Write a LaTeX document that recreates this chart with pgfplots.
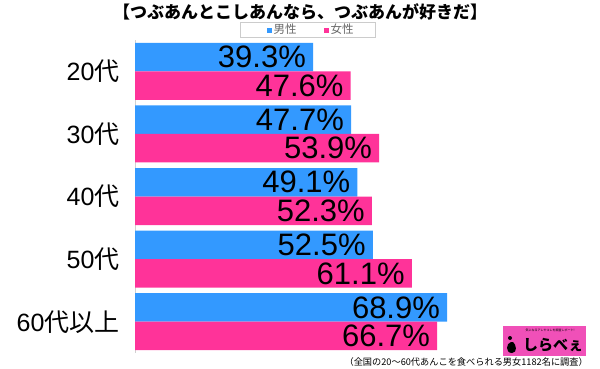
\documentclass[border=0pt]{standalone}
\usepackage{pgfplots}
\pgfplotsset{compat=1.18}
\usepackage{fontspec}
\setmainfont{Liberation Sans}
\newfontfamily\cjk{Noto Sans CJK JP}
\definecolor{mblue}{HTML}{3399FF}
\definecolor{fpink}{HTML}{FF3399}
\definecolor{logopink}{HTML}{F050B8}
\begin{document}
\begin{tikzpicture}[x=1pt,y=1pt]
\path[use as bounding box] (0,0) rectangle (600,368);
\begin{axis}[
  at={(135pt,15pt)}, anchor=south west,
  scale only axis, width=453pt, height=313pt,
  xbar, xmin=0, xmax=100,
  ymin=-0.5, ymax=4.5, y dir=reverse,
  ytick={0,1,2,3,4},
  yticklabels={20{\cjk 代},30{\cjk 代},40{\cjk 代},50{\cjk 代},60{\cjk 代以上}},
  yticklabel style={font=\fontsize{25}{25}\selectfont, text=black, xshift=-12pt},
  axis x line=none, axis y line*=left,
  y axis line style={draw=black!18, line width=0.8pt},
  major tick length=0,
  bar width=28.5pt,
  clip=false,
  point meta=x,
  nodes near coords={\pgfmathprintnumber[fixed,fixed zerofill,precision=1,assume math mode=true]{\pgfplotspointmeta}\%},
  every node near coord/.append style={anchor=east, inner xsep=7pt, text=black, font=\fontsize{31}{31}\selectfont},
]
\addplot[fill=mblue, draw=none, bar shift=14.25pt] coordinates {(39.3,0) (47.7,1) (49.1,2) (52.5,3) (68.9,4)};
\addplot[fill=fpink, draw=none, bar shift=-14.25pt] coordinates {(47.6,0) (53.9,1) (52.3,2) (61.1,3) (66.7,4)};
\end{axis}
% title
\node[font=\cjk\bfseries\fontsize{17}{17}\selectfont] at (300,356) {【つぶあんとこしあんなら、つぶあんが好きだ】};
% legend
\draw[black!20, line width=0.8pt] (240,331) rectangle (375,346);
\fill[mblue] (267,335.5) rectangle (272,340.5);
\node[anchor=west, inner sep=0pt, text=black!60, font=\cjk\fontsize{11.5}{12}\selectfont] at (273.5,338.5) {男性};
\fill[fpink] (324,335.5) rectangle (329,340.5);
\node[anchor=west, inner sep=0pt, text=black!60, font=\cjk\fontsize{11.5}{12}\selectfont] at (330.5,338.5) {女性};
% footnote
\node[anchor=east, inner sep=0pt, font=\cjk\fontsize{9.2}{10}\selectfont] at (588,6) {（全国の20～60代あんこを食べられる男女1182名に調査）};
% logo
\fill[logopink] (503,12) rectangle (586,42);
\node[inner sep=0pt, font=\cjk\fontsize{3}{3}\selectfont] at (550,37.5) {気になるアレやコレを調査レポート!};
\node[inner sep=0pt, font=\cjk\bfseries\fontsize{15}{15}\selectfont] at (553,23) {しらべぇ};
\fill[black] (510,30) circle (2);
\fill[black] (512,15) .. controls (505,15) and (506,25) .. (511,26) -- (513,26) .. controls (516,24) and (518,15) .. (512,15) -- cycle;
\end{tikzpicture}
\end{document}
